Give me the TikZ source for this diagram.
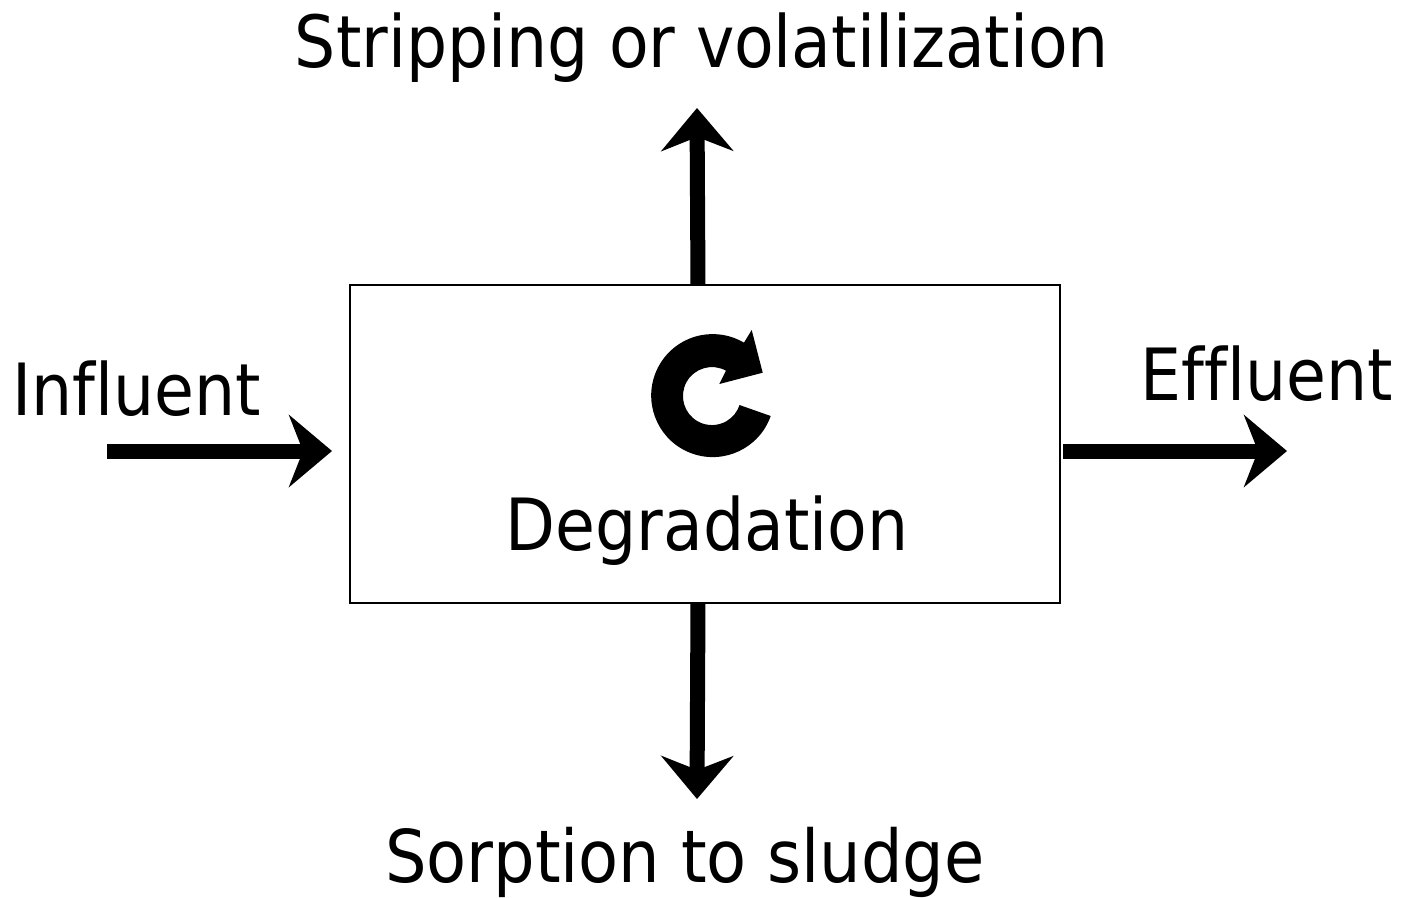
\documentclass[tikz,border=0pt]{standalone}
\usepackage{fontspec}
\setmainfont[Ligatures=NoCommon]{DejaVu Sans Condensed}
\usetikzlibrary{arrows.meta}

\tikzset{
  flowArrow/.style={line width=.15cm,-{Stealth[length=.43cm,width=.72cm,inset=.14cm]}},
  flowLabel/.style={anchor=base,inner sep=0pt,font=\fontsize{20.5pt}{24pt}\selectfont}
}

\begin{document}
\begin{tikzpicture}
  \useasboundingbox (0,0) rectangle (14.02,-8.97);
  % Tank
  \node[draw,line width=.02cm,minimum width=7.105cm,minimum height=3.18cm,inner sep=0pt] (tank) at (7.05,-4.44) {};
  \node[flowLabel] (degradation) at (7.07,-5.5) {Degradation};
  % Cycle
  \fill (7.707,-4.16) arc[start angle=-19.4,end angle=-300.6,radius=.615]
    -- (7.517,-3.3) -- (7.627,-3.727) -- (7.193,-3.84) -- (7.26,-3.707)
    arc[start angle=61,end angle=342,radius=.29] -- cycle;
  % Labels
  \node[flowLabel] (stripping) at (7.02,-.67) {Stripping or volatilization};
  \node[flowLabel,font=\fontsize{20.7pt}{24pt}\selectfont] (sorption) at (6.85,-8.82) {Sorption to sludge};
  \node[flowLabel] (influent) at (1.37,-4.15) {Influent};
  \node[flowLabel] (effluent) at (12.67,-4) {Effluent};
  % Ends
  \coordinate (inStart) at (1.07,-4.51);
  \coordinate (inEnd) at (3.32,-4.51);
  \coordinate (outStart) at (10.63,-4.51);
  \coordinate (outEnd) at (12.87,-4.51);
  \coordinate (upStart) at (6.98,-2.85);
  \coordinate (upEnd) at (6.97,-1.08);
  \coordinate (downStart) at (6.98,-6.03);
  \coordinate (downEnd) at (6.97,-7.99);
  % Flows
  \draw[flowArrow] (inStart) -- (inEnd);
  \draw[flowArrow] (outStart) -- (outEnd);
  \draw[flowArrow] (upStart) -- (upEnd);
  \draw[flowArrow] (downStart) -- (downEnd);
\end{tikzpicture}
\end{document}
